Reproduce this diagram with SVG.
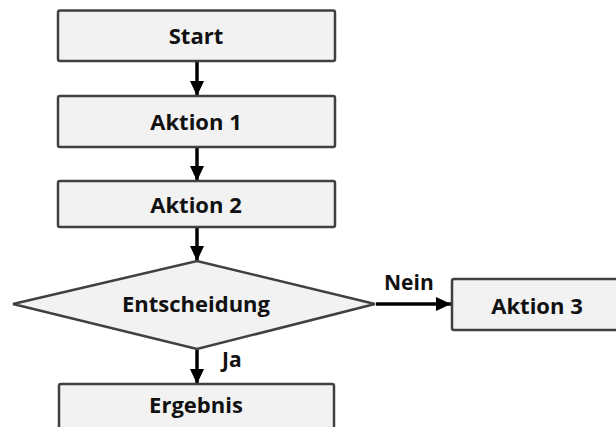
<svg xmlns="http://www.w3.org/2000/svg" width="616" height="427" viewBox="0 0 616 427">
  <style>
    .box { fill: #f2f2f2; stroke: #404040; stroke-width: 2.5; }
    .lbl { font-family: "Open Sans", "Liberation Sans", sans-serif; font-weight: bold; font-size: 22px; fill: #111; text-anchor: middle; }
    .tag { font-family: "Open Sans", "Liberation Sans", sans-serif; font-weight: bold; font-size: 21px; fill: #111; }
    .edge { stroke: #000; stroke-width: 3.5; fill: none; marker-end: url(#head); }
  </style>
  <defs>
    <marker id="head" markerUnits="userSpaceOnUse" markerWidth="17" markerHeight="17" viewBox="0 0 17 17" refX="16" refY="8.5" orient="auto">
      <path d="M1,1.5 L16,8.5 L1,15.5 Z" fill="#000"/>
    </marker>
  </defs>
  <rect width="616" height="427" fill="#fff"/>

  <g id="connectors">
    <line class="edge" x1="197" y1="62" x2="197" y2="96"/>
    <line class="edge" x1="197" y1="148" x2="197" y2="181"/>
    <line class="edge" x1="197" y1="228" x2="197" y2="261"/>
    <line class="edge" x1="197" y1="350" x2="197" y2="384"/>
    <line class="edge" x1="376" y1="304" x2="451" y2="304"/>
    <text class="tag" x="384" y="290">Nein</text>
    <text class="tag" x="222" y="367">Ja</text>
  </g>

  <g id="start">
    <rect class="box" x="58" y="10.5" width="277" height="50.5" rx="2"/>
    <text class="lbl" x="196" y="44">Start</text>
  </g>
  <g id="aktion1">
    <rect class="box" x="58" y="96" width="277" height="51" rx="2"/>
    <text class="lbl" x="196" y="130">Aktion 1</text>
  </g>
  <g id="aktion2">
    <rect class="box" x="58" y="181" width="277" height="46" rx="2"/>
    <text class="lbl" x="196" y="213">Aktion 2</text>
  </g>
  <g id="entscheidung">
    <polygon class="box" points="13,304 197,261 375,304 197,349"/>
    <text class="lbl" x="196" y="312">Entscheidung</text>
  </g>
  <g id="aktion3">
    <rect class="box" x="452" y="279" width="180" height="51" rx="2"/>
    <text class="lbl" x="537" y="314">Aktion 3</text>
  </g>
  <g id="ergebnis">
    <rect class="box" x="59" y="384" width="275" height="60" rx="2"/>
    <text class="lbl" x="196" y="413">Ergebnis</text>
  </g>
</svg>
